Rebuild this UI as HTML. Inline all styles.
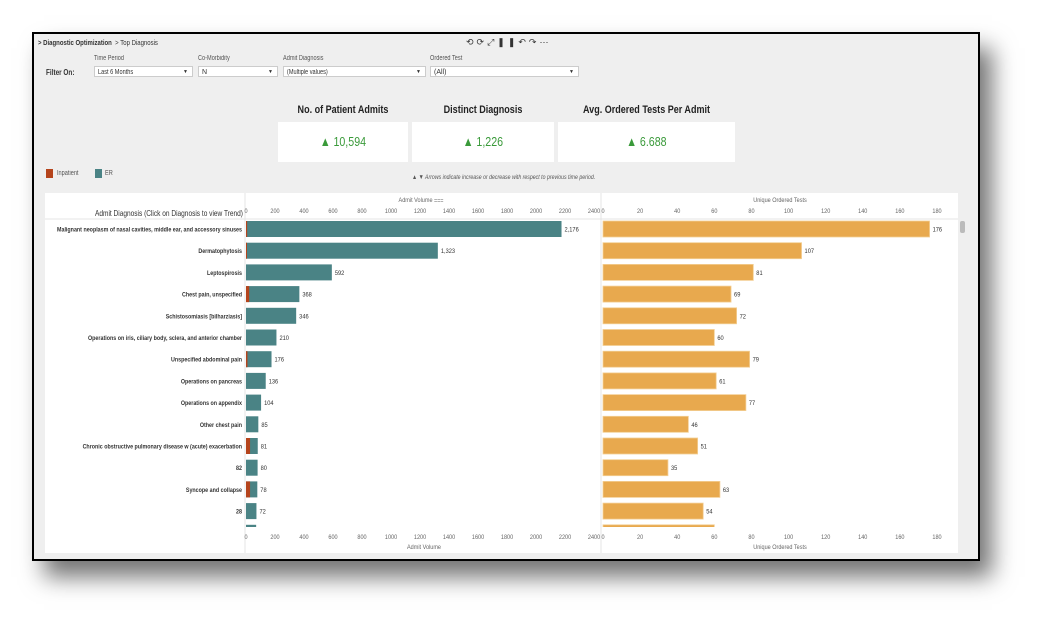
<!DOCTYPE html>
<html><head><meta charset="utf-8"><style>
body{margin:0;width:1045px;height:626px;background:#fff;position:relative;overflow:hidden;font-family:"Liberation Sans",sans-serif;}
.a{position:absolute;}
.n{transform:scaleX(0.8);transform-origin:0 0;white-space:nowrap;}
#frame{left:32px;top:32px;width:944px;height:525px;border:2px solid #000;background:#efefef;box-shadow:12px 16px 22px rgba(0,0,0,.55);}
.lbl{font-size:7px;color:#555;}
.dd{background:#fff;border:1px solid #ccc;height:11px;font-size:7px;color:#333;line-height:11px;padding-left:3px;box-sizing:border-box;}
.dd span{position:absolute;right:4px;top:0;font-size:5px;}
.card{background:#fff;text-align:center;color:#3a9a3a;}
.card div{font-size:13px;line-height:40px;transform:scaleX(0.82);}
.kt{font-size:11px;font-weight:bold;color:#222;text-align:center;transform:scaleX(0.82);}
</style></head><body>
<div id="frame" class="a"></div>
<div class="a n" style="left:38px;top:38px;font-size:7.5px;color:#333"><b>&gt; Diagnostic Optimization</b> &nbsp;&gt; Top Diagnosis</div>
<div class="a" style="left:466px;top:37px;font-size:9px;color:#333;letter-spacing:3px">⟲⟳⤢❚❚↶↷⋯</div>
<div class="a n" style="left:46px;top:68px;font-size:8px;font-weight:bold;color:#333">Filter On:</div>
<div class="a lbl n" style="left:94px;top:55px">Time Period</div>
<div class="a dd" style="left:94px;top:66px;width:99px"><div class="n">Last 6 Months</div><span>▼</span></div>
<div class="a lbl n" style="left:198px;top:55px">Co-Morbidity</div>
<div class="a dd" style="left:198px;top:66px;width:80px">N<span>▼</span></div>
<div class="a lbl n" style="left:283px;top:55px">Admit Diagnosis</div>
<div class="a dd" style="left:283px;top:66px;width:143px"><div class="n">(Multiple values)</div><span>▼</span></div>
<div class="a lbl n" style="left:430px;top:55px">Ordered Test</div>
<div class="a dd" style="left:430px;top:66px;width:149px">(All)<span>▼</span></div>

<div class="a kt" style="left:278px;top:104px;width:130px">No. of Patient Admits</div>
<div class="a kt" style="left:412px;top:104px;width:142px">Distinct Diagnosis</div>
<div class="a kt" style="left:558px;top:104px;width:177px">Avg. Ordered Tests Per Admit</div>
<div class="a card" style="left:278px;top:122px;width:130px;height:40px"><div>▲ 10,594</div></div>
<div class="a card" style="left:412px;top:122px;width:142px;height:40px"><div>▲ 1,226</div></div>
<div class="a card" style="left:558px;top:122px;width:177px;height:40px"><div>▲ 6.688</div></div>

<div class="a" style="left:46px;top:169px;width:7px;height:9px;background:#b5441c"></div>
<div class="a lbl n" style="left:57px;top:170px">Inpatient</div>
<div class="a" style="left:95px;top:169px;width:7px;height:9px;background:#4a8385"></div>
<div class="a lbl n" style="left:105px;top:170px">ER</div>
<div class="a n" style="left:412px;top:174px;font-size:6.5px;color:#555;font-style:italic">▲ ▼ Arrows indicate increase or decrease with respect to previous time period.</div>

<svg class="a" style="left:0;top:0" width="1045" height="626" id="chart" font-family="Liberation Sans, sans-serif">
<rect x="45" y="193" width="913" height="360" fill="#fff"/>
<line x1="245" y1="193" x2="245" y2="553" stroke="#e4e4e4"/>
<line x1="601" y1="193" x2="601" y2="553" stroke="#e4e4e4"/>
<line x1="45" y1="219" x2="958" y2="219" stroke="#e4e4e4"/>
<rect x="960" y="221" width="5" height="12" rx="2" fill="#bbb"/>
<text transform="translate(243,216) scale(0.82,1)" font-size="8" fill="#333" text-anchor="end">Admit Diagnosis (Click on Diagnosis to view Trend)</text>
<g id="g"></g>
</svg>
<script>
const categories=["Malignant neoplasm of nasal cavities, middle ear, and accessory sinuses","Dermatophytosis","Leptospirosis","Chest pain, unspecified","Schistosomiasis [bilharziasis]","Operations on iris, ciliary body, sclera, and anterior chamber","Unspecified abdominal pain","Operations on pancreas","Operations on appendix","Other chest pain","Chronic obstructive pulmonary disease w (acute) exacerbation","82","Syncope and collapse","28",""];
const admitTotal=[2176,1323,592,368,346,210,176,136,104,85,81,80,78,72,70];
const inpatient=[8,4,0,22,0,0,10,0,0,0,28,0,28,0,0];
const uniqueTests=[176,107,81,69,72,60,79,61,77,46,51,35,63,54,60];
const admitTicks=[0,200,400,600,800,1000,1200,1400,1600,1800,2000,2200,2400];
const testTicks=[0,20,40,60,80,100,120,140,160,180];
const NS="http://www.w3.org/2000/svg",g=document.getElementById('g');
const xa=v=>246+v*348/2400, xt=v=>603+v*334/180, yr=i=>229+i*21.7;
function el(t,a,txt){const e=document.createElementNS(NS,t);for(const k in a)e.setAttribute(k,a[k]);if(txt!==undefined)e.textContent=String(txt);g.appendChild(e);return e;}
function tx(x,y,s,anchor,size,fill,w){return el('text',{transform:'translate('+x+','+y+') scale(0.85,1)','font-size':size||6.5,fill:fill||'#666','text-anchor':anchor||'middle','font-weight':w||'normal'},s);}
admitTicks.forEach(v=>{let t=tx(xa(v),213,v);
 t=tx(xa(v),539,v);});
testTicks.forEach(v=>{let t=tx(xt(v),213,v);
 t=tx(xt(v),539,v);});
let t=tx(421,202,'Admit Volume ⩶');
t=tx(424,549,'Admit Volume');
t=tx(780,202,'Unique Ordered Tests');
t=tx(780,549,'Unique Ordered Tests');
const svg=document.getElementById('chart');
const clip=document.createElementNS(NS,'clipPath');clip.setAttribute('id','cp');
const cr=document.createElementNS(NS,'rect');cr.setAttribute('x',45);cr.setAttribute('y',220);cr.setAttribute('width',913);cr.setAttribute('height',307);clip.appendChild(cr);svg.appendChild(clip);
const bg=document.createElementNS(NS,'g');bg.setAttribute('clip-path','url(#cp)');svg.appendChild(bg);
categories.forEach((c,i)=>{
 const y=yr(i);
 let r=document.createElementNS(NS,'rect');
 r.setAttribute('x',xa(0));r.setAttribute('y',y-8);r.setAttribute('width',xa(admitTotal[i])-xa(0));r.setAttribute('height',16);r.setAttribute('fill','#4a8385');
 
 
 bg.appendChild(r);
 if(inpatient[i]>0){let p=document.createElementNS(NS,'rect');
  p.setAttribute('x',xa(0));p.setAttribute('y',y-8);p.setAttribute('width',Math.max(1,xa(inpatient[i])-xa(0)));p.setAttribute('height',16);p.setAttribute('fill','#b5441c');
  
  
  bg.appendChild(p);}
 let o=document.createElementNS(NS,'rect');
 o.setAttribute('x',xt(0));o.setAttribute('y',y-8);o.setAttribute('width',xt(uniqueTests[i])-xt(0));o.setAttribute('height',16);o.setAttribute('fill','#e8a94e');o.setAttribute('stroke','#f3cf95');o.setAttribute('stroke-width','0.8');
 
 
 bg.appendChild(o);
 if(i<14){
  let l=el('text',{transform:'translate(242,'+(y+2.5)+') scale(0.8,1)','font-size':6.7,fill:'#333','text-anchor':'end','font-weight':'bold'},c);
  
  
  l=tx(xa(admitTotal[i])+3,y+2.5,admitTotal[i].toLocaleString('en-US'),'start',6.7,'#333');
  
  
  l=tx(xt(uniqueTests[i])+3,y+2.5,uniqueTests[i],'start',6.7,'#333');
  
  
 }
});
</script>
</body></html>
